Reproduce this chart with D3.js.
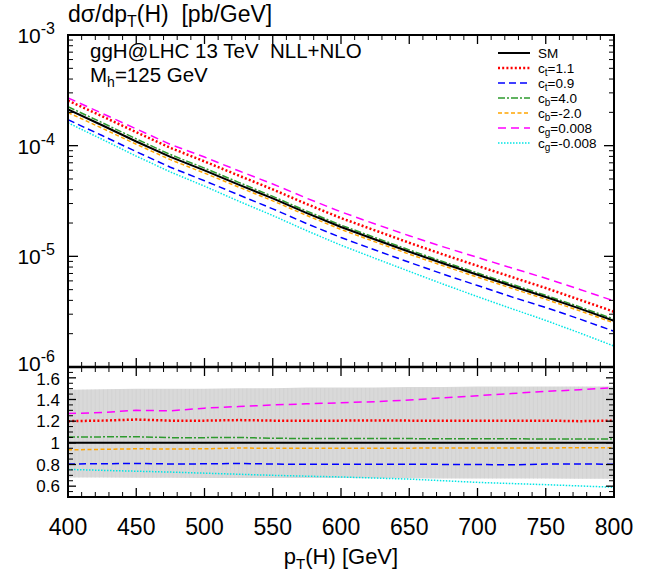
<!DOCTYPE html>
<html lang="en">

<head>
  <meta charset="utf-8">
  <title>ggH pT spectrum</title>
  <style>
    body {
      margin: 0;
      background: #fff;
      font-family: 'Liberation Sans', Arial, sans-serif;
    }
    text {
      fill: #000;
    }
  </style>
</head>

<body>
  <div id="chart"></div>

  <script src="https://d3js.org/d3.v7.min.js"></script>
  <script>
    // pT grid (GeV)
    var ptValues = [400, 425, 450, 475, 500, 525, 550, 575, 600, 625, 650, 675, 700, 725, 750, 775, 800];

    // SM cross section dsigma/dpT [pb/GeV]
    var smXsec = [2.13e-4, 1.53e-4, 1.09e-4, 7.93e-5, 5.98e-5, 4.44e-5, 3.34e-5, 2.46e-5, 1.84e-5,
      1.42e-5, 1.10e-5, 8.61e-6, 6.81e-6, 5.40e-6, 4.29e-6, 3.37e-6, 2.62e-6];

    // ratios to SM (lower panel)
    var ratioCt11 = [1.20, 1.205, 1.215, 1.205, 1.205, 1.21, 1.205, 1.205, 1.205, 1.207, 1.205, 1.205, 1.205, 1.205, 1.205, 1.20, 1.205];
    var ratioCt09 = [0.805, 0.807, 0.81, 0.805, 0.806, 0.81, 0.804, 0.802, 0.803, 0.803, 0.803, 0.801, 0.80, 0.797, 0.804, 0.804, 0.803];
    var ratioCb40 = [1.055, 1.055, 1.056, 1.048, 1.048, 1.05, 1.042, 1.04, 1.04, 1.04, 1.039, 1.038, 1.038, 1.037, 1.036, 1.036, 1.035];
    var ratioCbM20 = [0.935, 0.94, 0.945, 0.943, 0.945, 0.952, 0.95, 0.95, 0.95, 0.951, 0.951, 0.952, 0.952, 0.952, 0.953, 0.954, 0.955];
    var ratioCg008 = [1.27, 1.28, 1.30, 1.295, 1.32, 1.335, 1.35, 1.36, 1.37, 1.38, 1.395, 1.415, 1.435, 1.455, 1.475, 1.49, 1.51];
    var ratioCgM008 = [0.755, 0.746, 0.738, 0.73, 0.72, 0.71, 0.70, 0.692, 0.685, 0.675, 0.665, 0.65, 0.635, 0.624, 0.614, 0.602, 0.59];

    // scale uncertainty band (relative to SM)
    var bandUpper = [1.49, 1.495, 1.50, 1.50, 1.50, 1.505, 1.505, 1.51, 1.51, 1.51, 1.515, 1.515, 1.52, 1.52, 1.52, 1.52, 1.52];
    var bandLower = [0.68, 0.679, 0.678, 0.677, 0.676, 0.676, 0.675, 0.675, 0.675, 0.674, 0.672, 0.671, 0.67, 0.67, 0.67, 0.669, 0.668];

    var xTicks = [400, 450, 500, 550, 600, 650, 700, 750, 800];
    var yTicksUpper = [1e-3, 1e-4, 1e-5, 1e-6];
    var yTicksLower = [0.6, 0.8, 1, 1.2, 1.4, 1.6];

    var series = [
      { label: "SM", sub: "", rest: "", ratio: null, color: "#000", width: 2, dash: null },
      { label: "c", sub: "t", rest: "=1.1", ratio: ratioCt11, color: "#ff0000", width: 2.5, dash: "2,2.2" },
      { label: "c", sub: "t", rest: "=0.9", ratio: ratioCt09, color: "#0000ff", width: 1.5, dash: "7,4" },
      { label: "c", sub: "b", rest: "=4.0", ratio: ratioCb40, color: "#2e9a2e", width: 1.5, dash: "7,2,2,2" },
      { label: "c", sub: "b", rest: "=-2.0", ratio: ratioCbM20, color: "#ffa500", width: 1.5, dash: "4,2.5" },
      { label: "c", sub: "g", rest: "=0.008", ratio: ratioCg008, color: "#ff00ff", width: 1.5, dash: "8,5" },
      { label: "c", sub: "g", rest: "=-0.008", ratio: ratioCgM008, color: "#00e5e5", width: 1.5, dash: "1.5,1.5" }
    ];

    // Chart geometry
    var W = 653, H = 573;
    var left = 68, right = 614;
    var upTop = 35, midY = 367, lowBottom = 497;

    var svg = d3.select("#chart")
      .append("svg")
      .attr("width", W)
      .attr("height", H);

    var x = d3.scaleLinear().domain([400, 800]).range([left, right]);
    var yUp = d3.scaleLog().domain([1e-6, 1e-3]).range([midY, upTop]);
    var yLow = d3.scaleLinear().domain([0.5, 1.7]).range([lowBottom, midY]);

    // clip paths
    var defs = svg.append("defs");
    defs.append("clipPath").attr("id", "clip-up")
      .append("rect").attr("x", left).attr("y", upTop).attr("width", right - left).attr("height", midY - upTop);
    defs.append("clipPath").attr("id", "clip-low")
      .append("rect").attr("x", left).attr("y", midY).attr("width", right - left).attr("height", lowBottom - midY);

    // ---- lower panel: band ----
    var bandData = ptValues.map(function (p, i) { return { pt: p, lo: bandLower[i], hi: bandUpper[i] }; });
    var gLow = svg.append("g").attr("clip-path", "url(#clip-low)");
    gLow.append("path")
      .attr("fill", "#d9d9d9")
      .attr("d", d3.area()
        .x(function (d) { return x(d.pt); })
        .y0(function (d) { return yLow(d.lo); })
        .y1(function (d) { return yLow(d.hi); })(bandData));

    // faint vertical striations of the band
    var stripes = d3.range(402, 800, 3);
    gLow.selectAll(".stripe")
      .data(stripes)
      .enter()
      .append("line")
      .attr("class", "stripe")
      .attr("x1", function (d) { return x(d); })
      .attr("x2", function (d) { return x(d); })
      .attr("y1", function (d) { return yLow(d3.interpolateNumber(1.49, 1.52)((d - 400) / 400)); })
      .attr("y2", function (d) { return yLow(d3.interpolateNumber(0.68, 0.668)((d - 400) / 400)); })
      .attr("stroke", "#cfcfcf")
      .attr("stroke-width", 0.6);

    var lineUp = d3.line()
      .x(function (d) { return x(d.pt); })
      .y(function (d) { return yUp(d.v); });
    var lineLow = d3.line()
      .x(function (d) { return x(d.pt); })
      .y(function (d) { return yLow(d.v); });

    var gUp = svg.append("g").attr("clip-path", "url(#clip-up)");

    // draw non-SM first, SM on top
    series.slice(1).concat([series[0]]).forEach(function (s) {
      var upData = ptValues.map(function (p, i) {
        return { pt: p, v: smXsec[i] * (s.ratio ? s.ratio[i] : 1) };
      });
      var lowData = ptValues.map(function (p, i) {
        return { pt: p, v: s.ratio ? s.ratio[i] : 1 };
      });
      gUp.append("path")
        .attr("fill", "none")
        .attr("stroke", s.color)
        .attr("stroke-width", s.width)
        .attr("stroke-dasharray", s.dash)
        .attr("d", lineUp(upData));
      gLow.append("path")
        .attr("fill", "none")
        .attr("stroke", s.color)
        .attr("stroke-width", s.width)
        .attr("stroke-dasharray", s.dash)
        .attr("d", lineLow(lowData));
    });

    // ---- ticks ----
    var xMinor = d3.range(400, 801, 10).filter(function (v) { return v % 50 !== 0; });

    function xTickRow(y0, dir) {
      // dir: +1 ticks go down, -1 go up
      svg.append("g").selectAll("line")
        .data(xTicks.concat(xMinor))
        .enter()
        .append("line")
        .attr("x1", function (d) { return x(d); })
        .attr("x2", function (d) { return x(d); })
        .attr("y1", y0)
        .attr("y2", function (d) { return y0 + dir * (d % 50 === 0 ? 9 : 5); })
        .attr("stroke", "#000")
        .attr("stroke-width", function (d) { return d % 50 === 0 ? 1.3 : 1; });
    }
    xTickRow(upTop, 1);
    xTickRow(midY, -1);
    xTickRow(midY, 1);
    xTickRow(lowBottom, -1);

    // y ticks upper (log)
    var upMinor = [];
    [1e-6, 1e-5, 1e-4].forEach(function (dec) {
      for (var k = 2; k <= 9; k++) upMinor.push(dec * k);
    });
    var upTickData = yTicksUpper.map(function (v) { return { v: v, len: 10 }; })
      .concat(upMinor.map(function (v) { return { v: v, len: 5 }; }));
    [[left, 1], [right, -1]].forEach(function (side) {
      svg.append("g").selectAll("line")
        .data(upTickData)
        .enter()
        .append("line")
        .attr("x1", side[0])
        .attr("x2", function (d) { return side[0] + side[1] * d.len; })
        .attr("y1", function (d) { return yUp(d.v); })
        .attr("y2", function (d) { return yUp(d.v); })
        .attr("stroke", "#000")
        .attr("stroke-width", function (d) { return d.len > 5 ? 1.3 : 1; });
    });

    // y ticks lower
    var lowMinor = d3.range(0.55, 1.7, 0.05).filter(function (v) {
      return Math.abs(v * 5 - Math.round(v * 5)) > 1e-6;
    });
    var lowTickData = yTicksLower.map(function (v) { return { v: v, len: 8 }; })
      .concat(lowMinor.map(function (v) { return { v: v, len: 5 }; }));
    [[left, 1], [right, -1]].forEach(function (side) {
      svg.append("g").selectAll("line")
        .data(lowTickData)
        .enter()
        .append("line")
        .attr("x1", side[0])
        .attr("x2", function (d) { return side[0] + side[1] * d.len; })
        .attr("y1", function (d) { return yLow(d.v); })
        .attr("y2", function (d) { return yLow(d.v); })
        .attr("stroke", "#000")
        .attr("stroke-width", function (d) { return d.len > 5 ? 1.3 : 1; });
    });

    // frames
    svg.append("rect")
      .attr("x", left).attr("y", upTop)
      .attr("width", right - left).attr("height", midY - upTop)
      .attr("fill", "none").attr("stroke", "#000").attr("stroke-width", 2);
    svg.append("rect")
      .attr("x", left).attr("y", midY)
      .attr("width", right - left).attr("height", lowBottom - midY)
      .attr("fill", "none").attr("stroke", "#000").attr("stroke-width", 2);
    svg.append("line")
      .attr("x1", left).attr("x2", right).attr("y1", midY).attr("y2", midY)
      .attr("stroke", "#000").attr("stroke-width", 2.5);

    // ---- labels ----
    // upper y labels 10^n (the lowest one sits a little higher to clear "1.6")
    yTicksUpper.forEach(function (v) {
      var shift = v === 1e-6 ? -4 : 0;
      var t = svg.append("text")
        .attr("x", 55)
        .attr("y", yUp(v) + 8 + shift)
        .attr("text-anchor", "end")
        .style("font-size", "21px");
      t.append("tspan").text("10");
      t.append("tspan")
        .attr("dy", -9)
        .style("font-size", "16px")
        .text("-" + Math.round(-Math.log10(v)));
    });

    // lower y labels
    svg.append("g").selectAll("text")
      .data(yTicksLower)
      .enter()
      .append("text")
      .attr("x", 60)
      .attr("y", function (d) { return yLow(d) + 6 + (d === 1.6 ? 1 : 0); })
      .attr("text-anchor", "end")
      .style("font-size", "17px")
      .text(function (d) { return d3.format("~g")(d); });

    // x labels
    svg.append("g").selectAll("text")
      .data(xTicks)
      .enter()
      .append("text")
      .attr("x", function (d) { return x(d); })
      .attr("y", 535)
      .attr("text-anchor", "middle")
      .style("font-size", "23px")
      .text(function (d) { return d; });

    // x axis title
    var xt = svg.append("text")
      .attr("x", (left + right) / 2)
      .attr("y", 564)
      .attr("text-anchor", "middle")
      .style("font-size", "22px");
    xt.append("tspan").text("p");
    xt.append("tspan").attr("dy", 5).style("font-size", "15px").text("T");
    xt.append("tspan").attr("dy", -5).text("(H) [GeV]");

    // y axis title
    var yt = svg.append("text")
      .attr("x", 68)
      .attr("y", 22)
      .attr("xml:space", "preserve")
      .style("font-size", "23px");
    yt.append("tspan").text("dσ/dp");
    yt.append("tspan").attr("dy", 5).style("font-size", "16px").text("T");
    yt.append("tspan").attr("dy", -5).text("(H)  [pb/GeV]");

    // annotations
    svg.append("text")
      .attr("x", 90)
      .attr("y", 58)
      .attr("xml:space", "preserve")
      .style("font-size", "20.5px")
      .text("ggH@LHC 13 TeV  NLL+NLO");
    var mh = svg.append("text")
      .attr("x", 90)
      .attr("y", 82)
      .style("font-size", "20.5px");
    mh.append("tspan").text("M");
    mh.append("tspan").attr("dy", 5).style("font-size", "14px").text("h");
    mh.append("tspan").attr("dy", -5).text("=125 GeV");

    // legend
    var legend = svg.append("g");
    series.forEach(function (s, i) {
      var ly = 53 + i * 15;
      legend.append("line")
        .attr("x1", 498).attr("x2", 530)
        .attr("y1", ly).attr("y2", ly)
        .attr("stroke", s.color)
        .attr("stroke-width", s.width)
        .attr("stroke-dasharray", s.dash);
      var t = legend.append("text")
        .attr("x", 538)
        .attr("y", ly + 5)
        .style("font-size", "13.5px");
      t.append("tspan").text(s.label);
      if (s.sub) {
        t.append("tspan").attr("dy", 3).style("font-size", "10px").text(s.sub);
        t.append("tspan").attr("dy", -3).text(s.rest);
      }
    });
  </script>
</body>

</html>
